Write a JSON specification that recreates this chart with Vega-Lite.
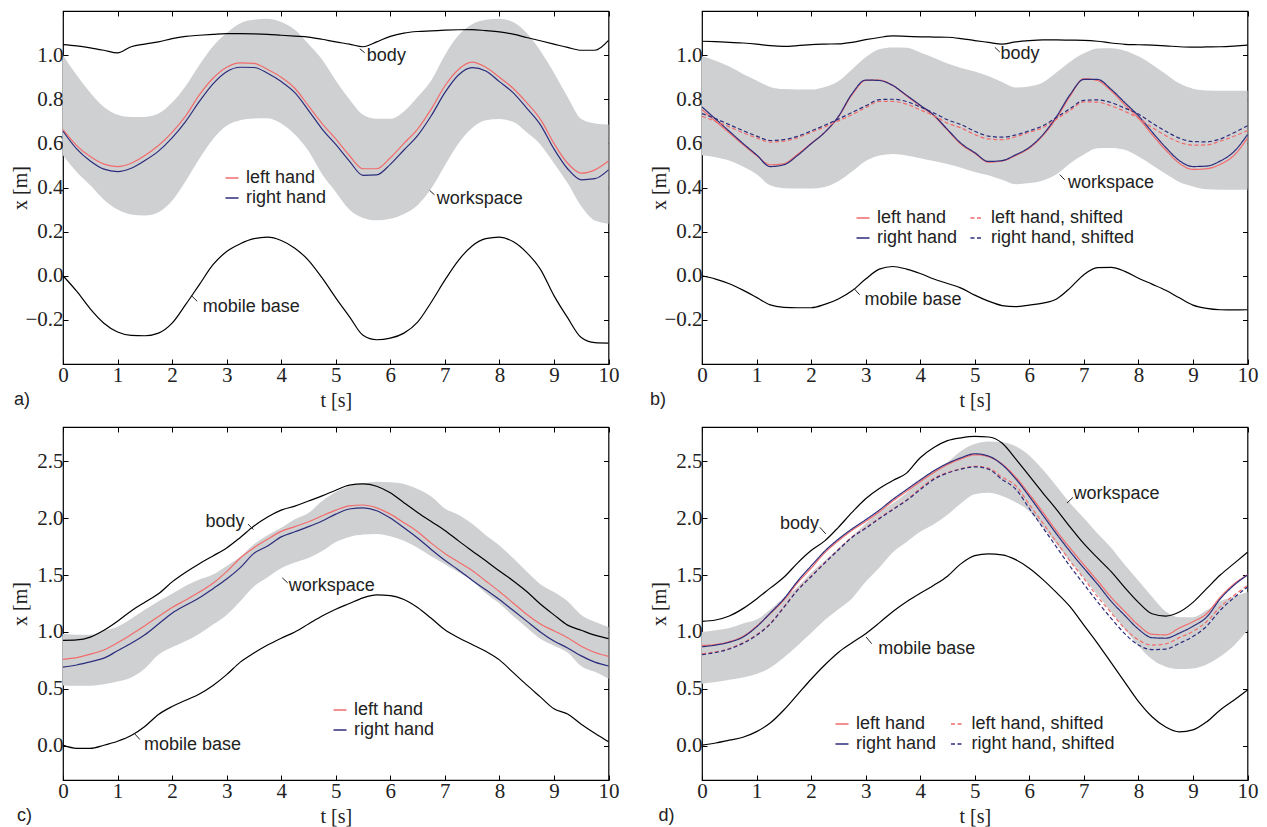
{
  "$schema": "https://vega.github.io/schema/vega-lite/v6.json",
  "background": "white",
  "padding": {"left": 9, "top": 9, "right": 5, "bottom": 5},
  "columns": 2,
  "bounds": "flush",
  "spacing": {"row": 63, "column": 93},
  "resolve": {"scale": {"color": "independent", "strokeDash": "independent"}},
  "config": {
    "view": {"stroke": "#000", "strokeWidth": 1.2},
    "font": "Liberation Sans",
    "axis": {
      "domain": false, "grid": false, "ticks": true, "tickSize": -5, "tickColor": "#000", "tickWidth": 1,
      "labelFont": "Liberation Serif", "labelFontSize": 21, "labelColor": "#222", "labelPadding": 5,
      "labelFlush": false, "labelOverlap": false,
      "titleFont": "Liberation Serif", "titleFontSize": 20, "titleFontWeight": "normal", "titleColor": "#222"
    },
    "legend": {
      "orient": "none", "symbolType": "stroke", "symbolSize": 169, "symbolStrokeWidth": 1.5,
      "labelFont": "Liberation Sans", "labelFontSize": 18, "labelColor": "#222", "labelOffset": 5,
      "rowPadding": 2, "padding": 0
    },
    "title": {"font": "Liberation Sans", "fontSize": 18, "fontWeight": "normal", "color": "#222"}
  },
  "datasets": {
    "a": [
      {"t":0,"body":1.048,"base":0.000,"left hand":0.662,"right hand":0.655,"lo":0.546,"hi":1.000},
      {"t":0.25,"body":1.042,"base":-0.070,"left hand":0.590,"right hand":0.575,"lo":0.470,"hi":0.910},
      {"t":0.5,"body":1.033,"base":-0.150,"left hand":0.540,"right hand":0.520,"lo":0.410,"hi":0.830},
      {"t":0.75,"body":1.022,"base":-0.215,"left hand":0.506,"right hand":0.483,"lo":0.345,"hi":0.765},
      {"t":1.0,"body":1.010,"base":-0.255,"left hand":0.495,"right hand":0.472,"lo":0.300,"hi":0.730},
      {"t":1.25,"body":1.038,"base":-0.270,"left hand":0.510,"right hand":0.487,"lo":0.278,"hi":0.720},
      {"t":1.5,"body":1.050,"base":-0.272,"left hand":0.545,"right hand":0.522,"lo":0.273,"hi":0.720},
      {"t":1.75,"body":1.060,"base":-0.260,"left hand":0.590,"right hand":0.565,"lo":0.288,"hi":0.735},
      {"t":2.0,"body":1.075,"base":-0.215,"left hand":0.650,"right hand":0.625,"lo":0.340,"hi":0.785},
      {"t":2.25,"body":1.085,"base":-0.130,"left hand":0.725,"right hand":0.700,"lo":0.430,"hi":0.860},
      {"t":2.5,"body":1.090,"base":-0.040,"left hand":0.820,"right hand":0.790,"lo":0.530,"hi":0.955},
      {"t":2.75,"body":1.094,"base":0.050,"left hand":0.895,"right hand":0.870,"lo":0.620,"hi":1.040},
      {"t":3.0,"body":1.097,"base":0.110,"left hand":0.945,"right hand":0.925,"lo":0.680,"hi":1.100},
      {"t":3.25,"body":1.097,"base":0.145,"left hand":0.965,"right hand":0.945,"lo":0.705,"hi":1.145},
      {"t":3.5,"body":1.096,"base":0.168,"left hand":0.963,"right hand":0.944,"lo":0.713,"hi":1.160},
      {"t":3.75,"body":1.094,"base":0.175,"left hand":0.935,"right hand":0.918,"lo":0.714,"hi":1.165},
      {"t":4.0,"body":1.090,"base":0.160,"left hand":0.900,"right hand":0.880,"lo":0.690,"hi":1.150},
      {"t":4.25,"body":1.086,"base":0.125,"left hand":0.850,"right hand":0.830,"lo":0.640,"hi":1.115},
      {"t":4.5,"body":1.082,"base":0.070,"left hand":0.770,"right hand":0.750,"lo":0.565,"hi":1.050},
      {"t":4.75,"body":1.072,"base":-0.010,"left hand":0.690,"right hand":0.665,"lo":0.460,"hi":0.980},
      {"t":5.0,"body":1.060,"base":-0.100,"left hand":0.620,"right hand":0.595,"lo":0.380,"hi":0.885},
      {"t":5.25,"body":1.050,"base":-0.185,"left hand":0.545,"right hand":0.520,"lo":0.300,"hi":0.800},
      {"t":5.5,"body":1.038,"base":-0.270,"left hand":0.485,"right hand":0.455,"lo":0.262,"hi":0.730},
      {"t":5.75,"body":1.060,"base":-0.290,"left hand":0.485,"right hand":0.457,"lo":0.251,"hi":0.712},
      {"t":6.0,"body":1.085,"base":-0.283,"left hand":0.535,"right hand":0.505,"lo":0.258,"hi":0.712},
      {"t":6.25,"body":1.100,"base":-0.260,"left hand":0.600,"right hand":0.570,"lo":0.280,"hi":0.745},
      {"t":6.5,"body":1.107,"base":-0.210,"left hand":0.665,"right hand":0.635,"lo":0.320,"hi":0.810},
      {"t":6.75,"body":1.110,"base":-0.120,"left hand":0.755,"right hand":0.725,"lo":0.395,"hi":0.885},
      {"t":7.0,"body":1.113,"base":-0.020,"left hand":0.860,"right hand":0.830,"lo":0.500,"hi":1.000},
      {"t":7.25,"body":1.115,"base":0.070,"left hand":0.935,"right hand":0.910,"lo":0.600,"hi":1.090},
      {"t":7.5,"body":1.116,"base":0.135,"left hand":0.968,"right hand":0.943,"lo":0.670,"hi":1.140},
      {"t":7.75,"body":1.111,"base":0.168,"left hand":0.945,"right hand":0.928,"lo":0.705,"hi":1.160},
      {"t":8.0,"body":1.105,"base":0.175,"left hand":0.900,"right hand":0.880,"lo":0.710,"hi":1.165},
      {"t":8.25,"body":1.095,"base":0.155,"left hand":0.850,"right hand":0.830,"lo":0.698,"hi":1.150},
      {"t":8.5,"body":1.080,"base":0.105,"left hand":0.785,"right hand":0.760,"lo":0.650,"hi":1.100},
      {"t":8.75,"body":1.065,"base":0.030,"left hand":0.710,"right hand":0.685,"lo":0.595,"hi":1.020},
      {"t":9.0,"body":1.050,"base":-0.090,"left hand":0.600,"right hand":0.575,"lo":0.510,"hi":0.920},
      {"t":9.25,"body":1.035,"base":-0.190,"left hand":0.510,"right hand":0.485,"lo":0.420,"hi":0.810},
      {"t":9.5,"body":1.022,"base":-0.280,"left hand":0.465,"right hand":0.435,"lo":0.315,"hi":0.710},
      {"t":9.75,"body":1.022,"base":-0.303,"left hand":0.480,"right hand":0.440,"lo":0.250,"hi":0.690},
      {"t":10,"body":1.067,"base":-0.305,"left hand":0.520,"right hand":0.480,"lo":0.236,"hi":0.685}
    ],
    "b": [
      {"t":0,"body":1.063,"base":0.000,"left hand":0.753,"right hand":0.765,"left hand, shifted":0.723,"right hand, shifted":0.735,"lo":0.546,"hi":0.995},
      {"t":0.25,"body":1.061,"base":-0.015,"left hand":0.700,"right hand":0.710,"left hand, shifted":0.700,"right hand, shifted":0.712,"lo":0.537,"hi":0.975},
      {"t":0.5,"body":1.058,"base":-0.036,"left hand":0.648,"right hand":0.655,"left hand, shifted":0.675,"right hand, shifted":0.685,"lo":0.522,"hi":0.948},
      {"t":0.75,"body":1.055,"base":-0.065,"left hand":0.595,"right hand":0.600,"left hand, shifted":0.648,"right hand, shifted":0.658,"lo":0.495,"hi":0.915},
      {"t":1.0,"body":1.050,"base":-0.098,"left hand":0.545,"right hand":0.548,"left hand, shifted":0.625,"right hand, shifted":0.633,"lo":0.460,"hi":0.885},
      {"t":1.25,"body":1.043,"base":-0.132,"left hand":0.503,"right hand":0.495,"left hand, shifted":0.606,"right hand, shifted":0.613,"lo":0.410,"hi":0.856},
      {"t":1.5,"body":1.040,"base":-0.143,"left hand":0.508,"right hand":0.503,"left hand, shifted":0.610,"right hand, shifted":0.617,"lo":0.397,"hi":0.846},
      {"t":1.75,"body":1.043,"base":-0.145,"left hand":0.550,"right hand":0.545,"left hand, shifted":0.625,"right hand, shifted":0.632,"lo":0.395,"hi":0.844},
      {"t":2.0,"body":1.048,"base":-0.145,"left hand":0.600,"right hand":0.598,"left hand, shifted":0.650,"right hand, shifted":0.656,"lo":0.395,"hi":0.844},
      {"t":2.25,"body":1.050,"base":-0.130,"left hand":0.650,"right hand":0.650,"left hand, shifted":0.675,"right hand, shifted":0.682,"lo":0.402,"hi":0.856},
      {"t":2.5,"body":1.051,"base":-0.105,"left hand":0.720,"right hand":0.722,"left hand, shifted":0.702,"right hand, shifted":0.710,"lo":0.428,"hi":0.882},
      {"t":2.75,"body":1.058,"base":-0.068,"left hand":0.820,"right hand":0.825,"left hand, shifted":0.730,"right hand, shifted":0.740,"lo":0.472,"hi":0.935},
      {"t":3.0,"body":1.070,"base":-0.015,"left hand":0.885,"right hand":0.887,"left hand, shifted":0.762,"right hand, shifted":0.770,"lo":0.520,"hi":0.990},
      {"t":3.25,"body":1.080,"base":0.030,"left hand":0.887,"right hand":0.885,"left hand, shifted":0.790,"right hand, shifted":0.798,"lo":0.545,"hi":1.027},
      {"t":3.5,"body":1.087,"base":0.042,"left hand":0.862,"right hand":0.862,"left hand, shifted":0.790,"right hand, shifted":0.800,"lo":0.552,"hi":1.035},
      {"t":3.75,"body":1.085,"base":0.030,"left hand":0.815,"right hand":0.818,"left hand, shifted":0.778,"right hand, shifted":0.790,"lo":0.545,"hi":1.033},
      {"t":4.0,"body":1.083,"base":0.010,"left hand":0.770,"right hand":0.773,"left hand, shifted":0.752,"right hand, shifted":0.765,"lo":0.533,"hi":1.012},
      {"t":4.25,"body":1.082,"base":-0.015,"left hand":0.725,"right hand":0.728,"left hand, shifted":0.725,"right hand, shifted":0.738,"lo":0.520,"hi":0.988},
      {"t":4.5,"body":1.081,"base":-0.035,"left hand":0.660,"right hand":0.663,"left hand, shifted":0.692,"right hand, shifted":0.707,"lo":0.507,"hi":0.962},
      {"t":4.75,"body":1.075,"base":-0.056,"left hand":0.595,"right hand":0.600,"left hand, shifted":0.670,"right hand, shifted":0.685,"lo":0.490,"hi":0.942},
      {"t":5.0,"body":1.066,"base":-0.088,"left hand":0.555,"right hand":0.558,"left hand, shifted":0.640,"right hand, shifted":0.655,"lo":0.470,"hi":0.926},
      {"t":5.25,"body":1.058,"base":-0.115,"left hand":0.515,"right hand":0.518,"left hand, shifted":0.620,"right hand, shifted":0.633,"lo":0.455,"hi":0.905},
      {"t":5.5,"body":1.050,"base":-0.135,"left hand":0.520,"right hand":0.522,"left hand, shifted":0.617,"right hand, shifted":0.628,"lo":0.435,"hi":0.878},
      {"t":5.75,"body":1.060,"base":-0.140,"left hand":0.545,"right hand":0.548,"left hand, shifted":0.630,"right hand, shifted":0.638,"lo":0.415,"hi":0.853},
      {"t":6.0,"body":1.066,"base":-0.133,"left hand":0.578,"right hand":0.582,"left hand, shifted":0.650,"right hand, shifted":0.657,"lo":0.420,"hi":0.858},
      {"t":6.25,"body":1.069,"base":-0.124,"left hand":0.635,"right hand":0.640,"left hand, shifted":0.672,"right hand, shifted":0.680,"lo":0.432,"hi":0.876},
      {"t":6.5,"body":1.069,"base":-0.105,"left hand":0.715,"right hand":0.722,"left hand, shifted":0.710,"right hand, shifted":0.718,"lo":0.460,"hi":0.922},
      {"t":6.75,"body":1.068,"base":-0.055,"left hand":0.815,"right hand":0.822,"left hand, shifted":0.750,"right hand, shifted":0.758,"lo":0.510,"hi":0.970},
      {"t":7.0,"body":1.067,"base":0.005,"left hand":0.893,"right hand":0.890,"left hand, shifted":0.788,"right hand, shifted":0.795,"lo":0.550,"hi":1.008},
      {"t":7.25,"body":1.063,"base":0.037,"left hand":0.885,"right hand":0.890,"left hand, shifted":0.787,"right hand, shifted":0.797,"lo":0.578,"hi":1.030},
      {"t":7.5,"body":1.055,"base":0.038,"left hand":0.838,"right hand":0.845,"left hand, shifted":0.770,"right hand, shifted":0.785,"lo":0.579,"hi":1.031},
      {"t":7.75,"body":1.049,"base":0.020,"left hand":0.775,"right hand":0.785,"left hand, shifted":0.745,"right hand, shifted":0.760,"lo":0.571,"hi":1.020},
      {"t":8.0,"body":1.047,"base":-0.011,"left hand":0.715,"right hand":0.725,"left hand, shifted":0.715,"right hand, shifted":0.733,"lo":0.540,"hi":0.995},
      {"t":8.25,"body":1.045,"base":-0.038,"left hand":0.640,"right hand":0.652,"left hand, shifted":0.672,"right hand, shifted":0.692,"lo":0.502,"hi":0.958},
      {"t":8.5,"body":1.042,"base":-0.066,"left hand":0.570,"right hand":0.582,"left hand, shifted":0.635,"right hand, shifted":0.655,"lo":0.462,"hi":0.915},
      {"t":8.75,"body":1.038,"base":-0.100,"left hand":0.510,"right hand":0.522,"left hand, shifted":0.605,"right hand, shifted":0.624,"lo":0.425,"hi":0.872},
      {"t":9.0,"body":1.036,"base":-0.133,"left hand":0.482,"right hand":0.495,"left hand, shifted":0.592,"right hand, shifted":0.608,"lo":0.405,"hi":0.848},
      {"t":9.25,"body":1.037,"base":-0.148,"left hand":0.485,"right hand":0.497,"left hand, shifted":0.593,"right hand, shifted":0.607,"lo":0.392,"hi":0.840},
      {"t":9.5,"body":1.038,"base":-0.154,"left hand":0.505,"right hand":0.520,"left hand, shifted":0.610,"right hand, shifted":0.620,"lo":0.390,"hi":0.839},
      {"t":9.75,"body":1.041,"base":-0.155,"left hand":0.545,"right hand":0.562,"left hand, shifted":0.632,"right hand, shifted":0.648,"lo":0.390,"hi":0.839},
      {"t":10,"body":1.045,"base":-0.154,"left hand":0.624,"right hand":0.640,"left hand, shifted":0.658,"right hand, shifted":0.680,"lo":0.390,"hi":0.839}
    ],
    "c": [
      {"t":0,"body":0.926,"base":0.006,"left hand":0.760,"right hand":0.692,"lo":0.530,"hi":0.985},
      {"t":0.25,"body":0.930,"base":-0.022,"left hand":0.775,"right hand":0.710,"lo":0.527,"hi":0.975},
      {"t":0.5,"body":0.955,"base":-0.022,"left hand":0.805,"right hand":0.738,"lo":0.528,"hi":0.975},
      {"t":0.75,"body":1.015,"base":0.005,"left hand":0.842,"right hand":0.770,"lo":0.540,"hi":1.010},
      {"t":1.0,"body":1.095,"base":0.040,"left hand":0.905,"right hand":0.835,"lo":0.565,"hi":1.045},
      {"t":1.25,"body":1.185,"base":0.090,"left hand":0.978,"right hand":0.900,"lo":0.600,"hi":1.115},
      {"t":1.5,"body":1.262,"base":0.170,"left hand":1.055,"right hand":0.975,"lo":0.680,"hi":1.195},
      {"t":1.75,"body":1.335,"base":0.275,"left hand":1.135,"right hand":1.070,"lo":0.800,"hi":1.270},
      {"t":2.0,"body":1.440,"base":0.345,"left hand":1.215,"right hand":1.165,"lo":0.865,"hi":1.335},
      {"t":2.25,"body":1.525,"base":0.400,"left hand":1.280,"right hand":1.235,"lo":0.920,"hi":1.405},
      {"t":2.5,"body":1.600,"base":0.455,"left hand":1.350,"right hand":1.300,"lo":0.985,"hi":1.460},
      {"t":2.75,"body":1.668,"base":0.530,"left hand":1.428,"right hand":1.380,"lo":1.065,"hi":1.505},
      {"t":3.0,"body":1.738,"base":0.625,"left hand":1.530,"right hand":1.465,"lo":1.150,"hi":1.580},
      {"t":3.25,"body":1.830,"base":0.735,"left hand":1.650,"right hand":1.565,"lo":1.270,"hi":1.660},
      {"t":3.5,"body":1.930,"base":0.815,"left hand":1.740,"right hand":1.690,"lo":1.400,"hi":1.770},
      {"t":3.75,"body":2.010,"base":0.885,"left hand":1.815,"right hand":1.755,"lo":1.480,"hi":1.850},
      {"t":4.0,"body":2.070,"base":0.945,"left hand":1.883,"right hand":1.835,"lo":1.560,"hi":1.915},
      {"t":4.25,"body":2.105,"base":1.000,"left hand":1.925,"right hand":1.880,"lo":1.610,"hi":1.990},
      {"t":4.5,"body":2.150,"base":1.070,"left hand":1.968,"right hand":1.925,"lo":1.650,"hi":2.045},
      {"t":4.75,"body":2.195,"base":1.140,"left hand":2.020,"right hand":1.975,"lo":1.710,"hi":2.150},
      {"t":5.0,"body":2.245,"base":1.200,"left hand":2.070,"right hand":2.035,"lo":1.790,"hi":2.230},
      {"t":5.25,"body":2.290,"base":1.250,"left hand":2.108,"right hand":2.080,"lo":1.835,"hi":2.280},
      {"t":5.5,"body":2.300,"base":1.300,"left hand":2.115,"right hand":2.090,"lo":1.855,"hi":2.305},
      {"t":5.75,"body":2.280,"base":1.326,"left hand":2.090,"right hand":2.065,"lo":1.861,"hi":2.320},
      {"t":6.0,"body":2.222,"base":1.320,"left hand":2.035,"right hand":2.000,"lo":1.840,"hi":2.315},
      {"t":6.25,"body":2.135,"base":1.285,"left hand":1.960,"right hand":1.915,"lo":1.800,"hi":2.300},
      {"t":6.5,"body":2.050,"base":1.215,"left hand":1.880,"right hand":1.825,"lo":1.740,"hi":2.255},
      {"t":6.75,"body":1.970,"base":1.120,"left hand":1.780,"right hand":1.725,"lo":1.665,"hi":2.190},
      {"t":7.0,"body":1.892,"base":1.020,"left hand":1.690,"right hand":1.630,"lo":1.595,"hi":2.085},
      {"t":7.25,"body":1.800,"base":0.950,"left hand":1.615,"right hand":1.545,"lo":1.525,"hi":2.030},
      {"t":7.5,"body":1.712,"base":0.890,"left hand":1.540,"right hand":1.455,"lo":1.450,"hi":1.950},
      {"t":7.75,"body":1.625,"base":0.830,"left hand":1.448,"right hand":1.370,"lo":1.340,"hi":1.850},
      {"t":8.0,"body":1.535,"base":0.755,"left hand":1.355,"right hand":1.285,"lo":1.250,"hi":1.760},
      {"t":8.25,"body":1.450,"base":0.645,"left hand":1.255,"right hand":1.190,"lo":1.140,"hi":1.650},
      {"t":8.5,"body":1.355,"base":0.535,"left hand":1.155,"right hand":1.095,"lo":1.040,"hi":1.530},
      {"t":8.75,"body":1.245,"base":0.430,"left hand":1.070,"right hand":1.000,"lo":0.940,"hi":1.420},
      {"t":9.0,"body":1.150,"base":0.325,"left hand":1.010,"right hand":0.920,"lo":0.880,"hi":1.350},
      {"t":9.25,"body":1.060,"base":0.280,"left hand":0.950,"right hand":0.860,"lo":0.820,"hi":1.270},
      {"t":9.5,"body":1.015,"base":0.190,"left hand":0.875,"right hand":0.790,"lo":0.700,"hi":1.150},
      {"t":9.75,"body":0.972,"base":0.110,"left hand":0.820,"right hand":0.735,"lo":0.650,"hi":1.090},
      {"t":10,"body":0.941,"base":0.035,"left hand":0.786,"right hand":0.701,"lo":0.590,"hi":1.043}
    ],
    "d": [
      {"t":0,"body":1.093,"base":0.006,"left hand":0.882,"right hand":0.870,"left hand, shifted":0.809,"right hand, shifted":0.800,"lo":0.546,"hi":1.000},
      {"t":0.25,"body":1.105,"base":0.025,"left hand":0.890,"right hand":0.885,"left hand, shifted":0.825,"right hand, shifted":0.820,"lo":0.560,"hi":1.015},
      {"t":0.5,"body":1.140,"base":0.050,"left hand":0.915,"right hand":0.910,"left hand, shifted":0.855,"right hand, shifted":0.850,"lo":0.580,"hi":1.035},
      {"t":0.75,"body":1.205,"base":0.075,"left hand":0.960,"right hand":0.955,"left hand, shifted":0.905,"right hand, shifted":0.900,"lo":0.600,"hi":1.075},
      {"t":1.0,"body":1.290,"base":0.125,"left hand":1.050,"right hand":1.045,"left hand, shifted":0.975,"right hand, shifted":0.970,"lo":0.630,"hi":1.110},
      {"t":1.25,"body":1.385,"base":0.200,"left hand":1.160,"right hand":1.165,"left hand, shifted":1.075,"right hand, shifted":1.070,"lo":0.685,"hi":1.195},
      {"t":1.5,"body":1.480,"base":0.315,"left hand":1.280,"right hand":1.290,"left hand, shifted":1.220,"right hand, shifted":1.215,"lo":0.775,"hi":1.300},
      {"t":1.75,"body":1.605,"base":0.450,"left hand":1.430,"right hand":1.445,"left hand, shifted":1.370,"right hand, shifted":1.365,"lo":0.880,"hi":1.395},
      {"t":2.0,"body":1.715,"base":0.585,"left hand":1.560,"right hand":1.580,"left hand, shifted":1.490,"right hand, shifted":1.485,"lo":0.990,"hi":1.520},
      {"t":2.25,"body":1.800,"base":0.710,"left hand":1.695,"right hand":1.710,"left hand, shifted":1.610,"right hand, shifted":1.605,"lo":1.105,"hi":1.625},
      {"t":2.5,"body":1.919,"base":0.820,"left hand":1.800,"right hand":1.815,"left hand, shifted":1.725,"right hand, shifted":1.720,"lo":1.200,"hi":1.735},
      {"t":2.75,"body":2.050,"base":0.905,"left hand":1.893,"right hand":1.905,"left hand, shifted":1.835,"right hand, shifted":1.830,"lo":1.295,"hi":1.840},
      {"t":3.0,"body":2.170,"base":0.985,"left hand":1.970,"right hand":1.985,"left hand, shifted":1.915,"right hand, shifted":1.910,"lo":1.440,"hi":1.950},
      {"t":3.25,"body":2.260,"base":1.080,"left hand":2.055,"right hand":2.070,"left hand, shifted":2.000,"right hand, shifted":1.995,"lo":1.565,"hi":2.055},
      {"t":3.5,"body":2.330,"base":1.180,"left hand":2.150,"right hand":2.165,"left hand, shifted":2.080,"right hand, shifted":2.075,"lo":1.700,"hi":2.130},
      {"t":3.75,"body":2.395,"base":1.265,"left hand":2.235,"right hand":2.250,"left hand, shifted":2.160,"right hand, shifted":2.155,"lo":1.790,"hi":2.220},
      {"t":4.0,"body":2.530,"base":1.340,"left hand":2.320,"right hand":2.335,"left hand, shifted":2.260,"right hand, shifted":2.250,"lo":1.880,"hi":2.335},
      {"t":4.25,"body":2.620,"base":1.410,"left hand":2.400,"right hand":2.415,"left hand, shifted":2.350,"right hand, shifted":2.340,"lo":1.945,"hi":2.420},
      {"t":4.5,"body":2.680,"base":1.490,"left hand":2.470,"right hand":2.480,"left hand, shifted":2.400,"right hand, shifted":2.395,"lo":2.030,"hi":2.490},
      {"t":4.75,"body":2.705,"base":1.600,"left hand":2.520,"right hand":2.530,"left hand, shifted":2.435,"right hand, shifted":2.430,"lo":2.130,"hi":2.590},
      {"t":5.0,"body":2.717,"base":1.670,"left hand":2.556,"right hand":2.565,"left hand, shifted":2.455,"right hand, shifted":2.450,"lo":2.210,"hi":2.650},
      {"t":5.25,"body":2.712,"base":1.686,"left hand":2.540,"right hand":2.545,"left hand, shifted":2.440,"right hand, shifted":2.430,"lo":2.222,"hi":2.672},
      {"t":5.5,"body":2.660,"base":1.677,"left hand":2.475,"right hand":2.470,"left hand, shifted":2.360,"right hand, shifted":2.340,"lo":2.195,"hi":2.665},
      {"t":5.75,"body":2.520,"base":1.635,"left hand":2.360,"right hand":2.345,"left hand, shifted":2.285,"right hand, shifted":2.255,"lo":2.140,"hi":2.630},
      {"t":6.0,"body":2.370,"base":1.560,"left hand":2.210,"right hand":2.190,"left hand, shifted":2.120,"right hand, shifted":2.085,"lo":2.060,"hi":2.550},
      {"t":6.25,"body":2.220,"base":1.460,"left hand":2.050,"right hand":2.025,"left hand, shifted":1.955,"right hand, shifted":1.915,"lo":1.920,"hi":2.425},
      {"t":6.5,"body":2.075,"base":1.345,"left hand":1.885,"right hand":1.860,"left hand, shifted":1.790,"right hand, shifted":1.745,"lo":1.770,"hi":2.280},
      {"t":6.75,"body":1.920,"base":1.220,"left hand":1.735,"right hand":1.705,"left hand, shifted":1.620,"right hand, shifted":1.575,"lo":1.620,"hi":2.130},
      {"t":7.0,"body":1.775,"base":1.060,"left hand":1.590,"right hand":1.560,"left hand, shifted":1.470,"right hand, shifted":1.420,"lo":1.475,"hi":2.000},
      {"t":7.25,"body":1.650,"base":0.900,"left hand":1.450,"right hand":1.420,"left hand, shifted":1.310,"right hand, shifted":1.265,"lo":1.325,"hi":1.865},
      {"t":7.5,"body":1.530,"base":0.730,"left hand":1.305,"right hand":1.270,"left hand, shifted":1.170,"right hand, shifted":1.120,"lo":1.175,"hi":1.740},
      {"t":7.75,"body":1.390,"base":0.560,"left hand":1.180,"right hand":1.145,"left hand, shifted":1.030,"right hand, shifted":0.985,"lo":1.025,"hi":1.590},
      {"t":8.0,"body":1.260,"base":0.390,"left hand":1.060,"right hand":1.025,"left hand, shifted":0.930,"right hand, shifted":0.885,"lo":0.880,"hi":1.450},
      {"t":8.25,"body":1.160,"base":0.255,"left hand":0.980,"right hand":0.950,"left hand, shifted":0.885,"right hand, shifted":0.845,"lo":0.760,"hi":1.310},
      {"t":8.5,"body":1.140,"base":0.165,"left hand":0.975,"right hand":0.945,"left hand, shifted":0.895,"right hand, shifted":0.850,"lo":0.695,"hi":1.180},
      {"t":8.75,"body":1.175,"base":0.123,"left hand":1.035,"right hand":0.990,"left hand, shifted":0.950,"right hand, shifted":0.900,"lo":0.675,"hi":1.130},
      {"t":9.0,"body":1.260,"base":0.140,"left hand":1.090,"right hand":1.050,"left hand, shifted":1.005,"right hand, shifted":0.960,"lo":0.680,"hi":1.130},
      {"t":9.25,"body":1.380,"base":0.210,"left hand":1.160,"right hand":1.130,"left hand, shifted":1.090,"right hand, shifted":1.050,"lo":0.715,"hi":1.190},
      {"t":9.5,"body":1.500,"base":0.315,"left hand":1.305,"right hand":1.290,"left hand, shifted":1.220,"right hand, shifted":1.190,"lo":0.785,"hi":1.270},
      {"t":9.75,"body":1.600,"base":0.400,"left hand":1.420,"right hand":1.410,"left hand, shifted":1.320,"right hand, shifted":1.300,"lo":0.880,"hi":1.310},
      {"t":10,"body":1.700,"base":0.490,"left hand":1.502,"right hand":1.500,"left hand, shifted":1.408,"right hand, shifted":1.394,"lo":1.014,"hi":1.350}
    ]
  },
  "concat": [
    {
      "width": 545.5, "height": 353,
      "title": {"text": "a)", "orient": "bottom", "anchor": "start", "frame": "group", "dx": -49, "offset": -10, "baseline": "middle"},
      "data": {"name": "a"},
      "resolve": {"axis": {"x": "independent", "y": "independent"}},
      "layer": [
        {
          "mark": {"type": "area", "color": "#cfd0d2", "interpolate": "monotone"},
          "encoding": {
            "x": {"field": "t", "type": "quantitative", "scale": {"domain": [0, 10], "nice": false, "zero": false},
                  "axis": {"orient": "bottom", "values": [0,1,2,3,4,5,6,7,8,9,10], "format": "d", "title": "t [s]", "titleY": 36, "titleBaseline": "middle"}},
            "y": {"field": "lo", "type": "quantitative", "scale": {"domain": [-0.4, 1.2], "nice": false, "zero": false},
                  "axis": {"orient": "left", "values": [-0.2,0,0.2,0.4,0.6,0.8,1.0], "format": ".1f", "title": "x [m]", "titleX": -43, "titleBaseline": "middle"}},
            "y2": {"field": "hi"}
          }
        },
        {
          "transform": [{"fold": ["body", "base"], "as": ["part", "x"]}],
          "mark": {"type": "line", "color": "#000", "strokeWidth": 1.2, "interpolate": "monotone"},
          "encoding": {
            "x": {"field": "t", "type": "quantitative", "axis": {"orient": "top", "values": [0,1,2,3,4,5,6,7,8,9,10], "labels": false, "title": null}},
            "y": {"field": "x", "type": "quantitative", "axis": {"orient": "right", "values": [-0.2,0,0.2,0.4,0.6,0.8,1.0], "labels": false, "title": null}},
            "detail": {"field": "part"}
          }
        },
        {
          "transform": [{"fold": ["left hand", "right hand"], "as": ["series", "x"]}],
          "mark": {"type": "line", "strokeWidth": 1.2, "interpolate": "monotone"},
          "encoding": {
            "x": {"field": "t", "type": "quantitative", "axis": null},
            "y": {"field": "x", "type": "quantitative", "axis": null},
            "color": {"field": "series", "type": "nominal", "scale": {"domain": ["left hand", "right hand"], "range": ["#f26b6b", "#2b2c7c"]},
                      "legend": {"title": null, "legendX": 160, "legendY": 158}}
          }
        },
        {
          "data": {"values": [
            {"t": 5.44, "x": 1.029, "t2": 5.53, "x2": 1.011},
            {"t": 6.72, "x": 0.387, "t2": 6.81, "x2": 0.367},
            {"t": 2.35, "x": -0.089, "t2": 2.46, "x2": -0.116}
          ]},
          "mark": {"type": "rule", "color": "#222", "strokeWidth": 1},
          "encoding": {
            "x": {"field": "t", "type": "quantitative", "axis": null},
            "y": {"field": "x", "type": "quantitative", "axis": null},
            "x2": {"field": "t2"}, "y2": {"field": "x2"}
          }
        },
        {
          "data": {"values": [
            {"t": 5.57, "x": 0.996, "label": "body"},
            {"t": 6.85, "x": 0.348, "label": "workspace"},
            {"t": 2.56, "x": -0.142, "label": "mobile base"}
          ]},
          "mark": {"type": "text", "align": "left", "baseline": "middle", "font": "Liberation Sans", "fontSize": 18, "color": "#222"},
          "encoding": {
            "x": {"field": "t", "type": "quantitative", "axis": null},
            "y": {"field": "x", "type": "quantitative", "axis": null},
            "text": {"field": "label"}
          }
        }
      ]
    },
    {
      "width": 545.5, "height": 353,
      "title": {"text": "b)", "orient": "bottom", "anchor": "start", "frame": "group", "dx": -52, "offset": -10, "baseline": "middle"},
      "data": {"name": "b"},
      "resolve": {"axis": {"x": "independent", "y": "independent"}},
      "layer": [
        {
          "mark": {"type": "area", "color": "#cfd0d2", "interpolate": "monotone"},
          "encoding": {
            "x": {"field": "t", "type": "quantitative", "scale": {"domain": [0, 10], "nice": false, "zero": false},
                  "axis": {"orient": "bottom", "values": [0,1,2,3,4,5,6,7,8,9,10], "format": "d", "title": "t [s]", "titleY": 36, "titleBaseline": "middle"}},
            "y": {"field": "lo", "type": "quantitative", "scale": {"domain": [-0.4, 1.2], "nice": false, "zero": false},
                  "axis": {"orient": "left", "values": [-0.2,0,0.2,0.4,0.6,0.8,1.0], "format": ".1f", "title": "x [m]", "titleX": -43, "titleBaseline": "middle"}},
            "y2": {"field": "hi"}
          }
        },
        {
          "transform": [{"fold": ["body", "base"], "as": ["part", "x"]}],
          "mark": {"type": "line", "color": "#000", "strokeWidth": 1.2, "interpolate": "monotone"},
          "encoding": {
            "x": {"field": "t", "type": "quantitative", "axis": {"orient": "top", "values": [0,1,2,3,4,5,6,7,8,9,10], "labels": false, "title": null}},
            "y": {"field": "x", "type": "quantitative", "axis": {"orient": "right", "values": [-0.2,0,0.2,0.4,0.6,0.8,1.0], "labels": false, "title": null}},
            "detail": {"field": "part"}
          }
        },
        {
          "transform": [{"fold": ["left hand", "right hand", "left hand, shifted", "right hand, shifted"], "as": ["series", "x"]}],
          "mark": {"type": "line", "strokeWidth": 1.2, "interpolate": "monotone"},
          "encoding": {
            "x": {"field": "t", "type": "quantitative", "axis": null},
            "y": {"field": "x", "type": "quantitative", "axis": null},
            "color": {"field": "series", "type": "nominal",
                      "scale": {"domain": ["left hand", "right hand", "left hand, shifted", "right hand, shifted"], "range": ["#f26b6b", "#2b2c7c", "#f26b6b", "#2b2c7c"]},
                      "legend": {"title": null, "legendX": 152, "legendY": 198, "columns": 2, "columnPadding": 9}},
            "strokeDash": {"field": "series", "type": "nominal",
                      "scale": {"domain": ["left hand", "right hand", "left hand, shifted", "right hand, shifted"], "range": [[1, 0], [1, 0], [4, 2.5], [4, 2.5]]},
                      "legend": {"title": null, "legendX": 152, "legendY": 198, "columns": 2, "columnPadding": 9}}
          }
        },
        {
          "data": {"values": [
            {"t": 5.37, "x": 1.035, "t2": 5.46, "x2": 1.014},
            {"t": 6.56, "x": 0.458, "t2": 6.65, "x2": 0.435},
            {"t": 2.79, "x": -0.059, "t2": 2.89, "x2": -0.086}
          ]},
          "mark": {"type": "rule", "color": "#222", "strokeWidth": 1},
          "encoding": {
            "x": {"field": "t", "type": "quantitative", "axis": null},
            "y": {"field": "x", "type": "quantitative", "axis": null},
            "x2": {"field": "t2"}, "y2": {"field": "x2"}
          }
        },
        {
          "data": {"values": [
            {"t": 5.47, "x": 1.004, "label": "body"},
            {"t": 6.71, "x": 0.42, "label": "workspace"},
            {"t": 2.98, "x": -0.109, "label": "mobile base"}
          ]},
          "mark": {"type": "text", "align": "left", "baseline": "middle", "font": "Liberation Sans", "fontSize": 18, "color": "#222"},
          "encoding": {
            "x": {"field": "t", "type": "quantitative", "axis": null},
            "y": {"field": "x", "type": "quantitative", "axis": null},
            "text": {"field": "label"}
          }
        }
      ]
    },
    {
      "width": 545.5, "height": 353,
      "title": {"text": "c)", "orient": "bottom", "anchor": "start", "frame": "group", "dx": -46, "offset": -10, "baseline": "middle"},
      "data": {"name": "c"},
      "resolve": {"axis": {"x": "independent", "y": "independent"}},
      "layer": [
        {
          "mark": {"type": "area", "color": "#cfd0d2", "interpolate": "monotone"},
          "encoding": {
            "x": {"field": "t", "type": "quantitative", "scale": {"domain": [0, 10], "nice": false, "zero": false},
                  "axis": {"orient": "bottom", "values": [0,1,2,3,4,5,6,7,8,9,10], "format": "d", "title": "t [s]", "titleY": 36, "titleBaseline": "middle"}},
            "y": {"field": "lo", "type": "quantitative", "scale": {"domain": [-0.3, 2.8], "nice": false, "zero": false},
                  "axis": {"orient": "left", "values": [0,0.5,1.0,1.5,2.0,2.5], "format": ".1f", "title": "x [m]", "titleX": -43, "titleBaseline": "middle"}},
            "y2": {"field": "hi"}
          }
        },
        {
          "transform": [{"fold": ["body", "base"], "as": ["part", "x"]}],
          "mark": {"type": "line", "color": "#000", "strokeWidth": 1.2, "interpolate": "monotone"},
          "encoding": {
            "x": {"field": "t", "type": "quantitative", "axis": {"orient": "top", "values": [0,1,2,3,4,5,6,7,8,9,10], "labels": false, "title": null}},
            "y": {"field": "x", "type": "quantitative", "axis": {"orient": "right", "values": [0,0.5,1.0,1.5,2.0,2.5], "labels": false, "title": null}},
            "detail": {"field": "part"}
          }
        },
        {
          "transform": [{"fold": ["left hand", "right hand"], "as": ["series", "x"]}],
          "mark": {"type": "line", "strokeWidth": 1.2, "interpolate": "monotone"},
          "encoding": {
            "x": {"field": "t", "type": "quantitative", "axis": null},
            "y": {"field": "x", "type": "quantitative", "axis": null},
            "color": {"field": "series", "type": "nominal", "scale": {"domain": ["left hand", "right hand"], "range": ["#f26b6b", "#2b2c7c"]},
                      "legend": {"title": null, "legendX": 268, "legendY": 274}}
          }
        },
        {
          "data": {"values": [
            {"t": 3.39, "x": 1.948, "t2": 3.49, "x2": 1.90},
            {"t": 4.02, "x": 1.475, "t2": 4.12, "x2": 1.431},
            {"t": 1.31, "x": 0.108, "t2": 1.41, "x2": 0.055}
          ]},
          "mark": {"type": "rule", "color": "#222", "strokeWidth": 1},
          "encoding": {
            "x": {"field": "t", "type": "quantitative", "axis": null},
            "y": {"field": "x", "type": "quantitative", "axis": null},
            "x2": {"field": "t2"}, "y2": {"field": "x2"}
          }
        },
        {
          "data": {"values": [
            {"t": 2.61, "x": 1.963, "label": "body"},
            {"t": 4.14, "x": 1.408, "label": "workspace"},
            {"t": 1.485, "x": 0.006, "label": "mobile base"}
          ]},
          "mark": {"type": "text", "align": "left", "baseline": "middle", "font": "Liberation Sans", "fontSize": 18, "color": "#222"},
          "encoding": {
            "x": {"field": "t", "type": "quantitative", "axis": null},
            "y": {"field": "x", "type": "quantitative", "axis": null},
            "text": {"field": "label"}
          }
        }
      ]
    },
    {
      "width": 545.5, "height": 353,
      "title": {"text": "d)", "orient": "bottom", "anchor": "start", "frame": "group", "dx": -43.5, "offset": -10, "baseline": "middle"},
      "data": {"name": "d"},
      "resolve": {"axis": {"x": "independent", "y": "independent"}},
      "layer": [
        {
          "mark": {"type": "area", "color": "#cfd0d2", "interpolate": "monotone"},
          "encoding": {
            "x": {"field": "t", "type": "quantitative", "scale": {"domain": [0, 10], "nice": false, "zero": false},
                  "axis": {"orient": "bottom", "values": [0,1,2,3,4,5,6,7,8,9,10], "format": "d", "title": "t [s]", "titleY": 36, "titleBaseline": "middle"}},
            "y": {"field": "lo", "type": "quantitative", "scale": {"domain": [-0.3, 2.8], "nice": false, "zero": false},
                  "axis": {"orient": "left", "values": [0,0.5,1.0,1.5,2.0,2.5], "format": ".1f", "title": "x [m]", "titleX": -43, "titleBaseline": "middle"}},
            "y2": {"field": "hi"}
          }
        },
        {
          "transform": [{"fold": ["body", "base"], "as": ["part", "x"]}],
          "mark": {"type": "line", "color": "#000", "strokeWidth": 1.2, "interpolate": "monotone"},
          "encoding": {
            "x": {"field": "t", "type": "quantitative", "axis": {"orient": "top", "values": [0,1,2,3,4,5,6,7,8,9,10], "labels": false, "title": null}},
            "y": {"field": "x", "type": "quantitative", "axis": {"orient": "right", "values": [0,0.5,1.0,1.5,2.0,2.5], "labels": false, "title": null}},
            "detail": {"field": "part"}
          }
        },
        {
          "transform": [{"fold": ["left hand", "right hand", "left hand, shifted", "right hand, shifted"], "as": ["series", "x"]}],
          "mark": {"type": "line", "strokeWidth": 1.2, "interpolate": "monotone"},
          "encoding": {
            "x": {"field": "t", "type": "quantitative", "axis": null},
            "y": {"field": "x", "type": "quantitative", "axis": null},
            "color": {"field": "series", "type": "nominal",
                      "scale": {"domain": ["left hand", "right hand", "left hand, shifted", "right hand, shifted"], "range": ["#f26b6b", "#2b2c7c", "#f26b6b", "#2b2c7c"]},
                      "legend": {"title": null, "legendX": 131, "legendY": 288, "columns": 2, "columnPadding": 10.5}},
            "strokeDash": {"field": "series", "type": "nominal",
                      "scale": {"domain": ["left hand", "right hand", "left hand, shifted", "right hand, shifted"], "range": [[1, 0], [1, 0], [4, 2.5], [4, 2.5]]},
                      "legend": {"title": null, "legendX": 131, "legendY": 288, "columns": 2, "columnPadding": 10.5}}
          }
        },
        {
          "data": {"values": [
            {"t": 2.16, "x": 1.919, "t2": 2.27, "x2": 1.861},
            {"t": 6.69, "x": 2.132, "t2": 6.80, "x2": 2.182},
            {"t": 3.01, "x": 0.955, "t2": 3.11, "x2": 0.897}
          ]},
          "mark": {"type": "rule", "color": "#222", "strokeWidth": 1},
          "encoding": {
            "x": {"field": "t", "type": "quantitative", "axis": null},
            "y": {"field": "x", "type": "quantitative", "axis": null},
            "x2": {"field": "t2"}, "y2": {"field": "x2"}
          }
        },
        {
          "data": {"values": [
            {"t": 1.43, "x": 1.948, "label": "body"},
            {"t": 6.81, "x": 2.211, "label": "workspace"},
            {"t": 3.23, "x": 0.847, "label": "mobile base"}
          ]},
          "mark": {"type": "text", "align": "left", "baseline": "middle", "font": "Liberation Sans", "fontSize": 18, "color": "#222"},
          "encoding": {
            "x": {"field": "t", "type": "quantitative", "axis": null},
            "y": {"field": "x", "type": "quantitative", "axis": null},
            "text": {"field": "label"}
          }
        }
      ]
    }
  ]
}
